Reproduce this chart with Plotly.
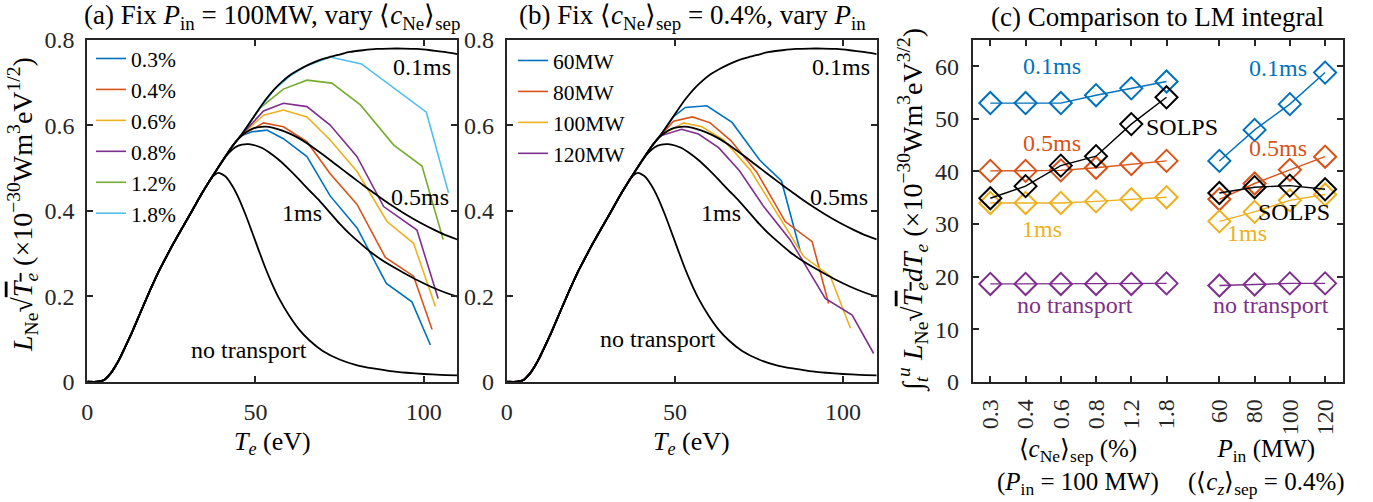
import plotly.graph_objects as go

FONT = "Liberation Serif"
AX = "#262626"
W, H = 1373, 502

# ---------------- panels (a) & (b): model curves (black) ----------------
rise_T = [0, 3, 5, 7, 9, 11, 13, 15, 17, 19, 21, 23, 25, 28, 31, 34, 37]
rise_L = [0, 0, 0.004, 0.02, 0.045, 0.077, 0.11, 0.147, 0.184, 0.22, 0.255,
          0.285, 0.315, 0.357, 0.398, 0.44, 0.478]

nt_T = [39, 41, 43, 45, 47, 49, 51, 53, 55, 57, 60, 63, 66, 70, 75, 80, 85, 90,
        95, 100, 105, 110]
nt_L = [0.489, 0.481, 0.46, 0.43, 0.392, 0.35, 0.307, 0.265, 0.228, 0.195,
        0.155, 0.122, 0.097, 0.072, 0.052, 0.039, 0.031, 0.025, 0.021, 0.018,
        0.016, 0.015]

t1_T = [40, 42, 44, 46, 48, 50, 52, 54, 57, 60, 63, 66, 69, 72, 75, 78, 81, 84,
        87, 90, 94, 98, 102, 106, 110]
t1_L = [0.515, 0.535, 0.549, 0.555, 0.556, 0.553, 0.547, 0.537, 0.519, 0.497,
        0.473, 0.448, 0.424, 0.397, 0.370, 0.346, 0.325, 0.305, 0.288, 0.273,
        0.255, 0.238, 0.223, 0.210, 0.199]

t05_T = [40, 43, 45, 47, 49, 51, 53, 55, 58, 61, 64, 67, 70, 73, 76, 79, 82, 85,
         88, 91, 94, 97, 100, 103, 106, 110]
t05_L = [0.515, 0.55, 0.569, 0.583, 0.592, 0.596, 0.597, 0.595, 0.588, 0.578,
         0.565, 0.549, 0.532, 0.514, 0.496, 0.478, 0.460, 0.443, 0.426, 0.410,
         0.395, 0.381, 0.368, 0.356, 0.345, 0.333]

t01_T = [40, 43, 45.5, 48, 50.5, 53, 55.5, 58, 60.5, 63, 66, 69, 72, 75, 78, 82,
         86, 90, 94, 98, 102, 106, 110]
t01_L = [0.515, 0.55, 0.575, 0.603, 0.632, 0.66, 0.684, 0.703, 0.719, 0.731,
         0.743, 0.753, 0.760, 0.766, 0.772, 0.776, 0.779, 0.780, 0.780, 0.779,
         0.776, 0.772, 0.767]

# ---------------- SOLPS profiles (coloured), shared start ----------------
pre_T = [0, 3, 5, 7, 10, 13, 16, 19, 22, 25, 28, 31, 34, 37, 40, 43, 45.5]
pre_L = [0, 0, 0.004, 0.02, 0.058, 0.11, 0.166, 0.22, 0.27, 0.315, 0.357,
         0.398, 0.44, 0.478, 0.515, 0.55, 0.575]

# panel (a): vary c_Ne
a_labels = ["0.3%", "0.4%", "0.6%", "0.8%", "1.2%", "1.8%"]
a03_T = [49, 53.4, 58.3, 65.3, 72.2, 80.2, 88.9, 96.5, 102]
a03_L = [0.585, 0.589, 0.569, 0.527, 0.435, 0.36, 0.23, 0.187, 0.086]
a04_T = [52.4, 58.3, 65.3, 72.2, 80.2, 88.6, 97, 102.5]
a04_L = [0.606, 0.597, 0.562, 0.487, 0.415, 0.291, 0.247, 0.122]
a06_T = [52.4, 58.3, 65.3, 72.2, 80.2, 89.1, 97, 103.5]
a06_L = [0.624, 0.636, 0.620, 0.566, 0.492, 0.375, 0.324, 0.176]
a08_T = [52.4, 58.3, 65.3, 72.2, 80.2, 88.1, 98, 104.3]
a08_L = [0.634, 0.652, 0.644, 0.601, 0.527, 0.41, 0.355, 0.195]
a12_T = [51.4, 58.3, 65.3, 72.7, 81.2, 91.1, 99.5, 105.8]
a12_L = [0.641, 0.685, 0.706, 0.699, 0.648, 0.554, 0.505, 0.333]
a18_T = [50.5, 55.5, 60.3, 65.3, 72.2, 81.5, 100.8, 107.4]
a18_L = [0.632, 0.683, 0.716, 0.740, 0.760, 0.744, 0.631, 0.442]

# panel (b): vary P_in
b_labels = ["60MW", "80MW", "100MW", "120MW"]
b60_T = [49.5, 53.1, 59.5, 67, 75.2, 81.7, 87.3]
b60_L = [0.62, 0.642, 0.646, 0.607, 0.519, 0.47, 0.305]
b80_T = [49.6, 55.2, 60.5, 66.7, 74.4, 82.8, 90.8, 95.7]
b80_L = [0.61, 0.62, 0.606, 0.564, 0.49, 0.375, 0.328, 0.183]
b100_T = [52.6, 58, 64.5, 72.4, 80.4, 88.3, 96.2, 102.2]
b100_L = [0.606, 0.597, 0.566, 0.496, 0.394, 0.293, 0.247, 0.125]
b120_T = [52, 57, 63, 69.2, 76.4, 84.3, 94.7, 102.7, 109.1]
b120_L = [0.591, 0.58, 0.548, 0.494, 0.41, 0.332, 0.195, 0.156, 0.066]

# ---------------- panel (c): LM integral ----------------
c_left_labels = ["0.3", "0.4", "0.6", "0.8", "1.2", "1.8"]
c_right_labels = ["60", "80", "100", "120"]
c01_left = [53.0, 53.0, 53.0, 54.5, 55.8, 57.1]
c01_right = [42.0, 47.9, 52.8, 58.8]
c05_left = [40.1, 40.1, 40.2, 40.7, 41.4, 42.0]
c05_right = [34.7, 37.7, 40.3, 42.8]
c1_left = [34.0, 34.0, 34.0, 34.3, 34.7, 35.1]
c1_right = [30.5, 32.3, 34.5, 35.6]
cnt_left = [18.6, 18.6, 18.6, 18.6, 18.6, 18.7]
cnt_right = [18.3, 18.5, 18.7, 18.7]
solps_left = [34.9, 37.2, 41.1, 42.9, 49.0, 54.1]
solps_right = [35.9, 37.0, 37.3, 36.6]

BLUE, RED, YEL, PUR, GRN, LBL = ("#0072BD", "#D95319", "#EDB120", "#7E2F8E",
                                 "#77AC30", "#4DBEEE")

fig = go.Figure()

# coloured SOLPS profiles
a_series = [(a03_T, a03_L, BLUE), (a04_T, a04_L, RED), (a06_T, a06_L, YEL),
            (a08_T, a08_L, PUR), (a12_T, a12_L, GRN), (a18_T, a18_L, LBL)]
for lab, (tt, ll, col) in zip(a_labels, a_series):
    fig.add_trace(go.Scatter(x=pre_T + tt, y=pre_L + ll, mode="lines", name=lab,
                             line=dict(color=col, width=1.6), xaxis="x", yaxis="y",
                             legend="legend"))
b_series = [(b60_T, b60_L, BLUE), (b80_T, b80_L, RED), (b100_T, b100_L, YEL),
            (b120_T, b120_L, PUR)]
for lab, (tt, ll, col) in zip(b_labels, b_series):
    fig.add_trace(go.Scatter(x=pre_T + tt, y=pre_L + ll, mode="lines", name=lab,
                             line=dict(color=col, width=1.6), xaxis="x2", yaxis="y2",
                             legend="legend2"))

# black model curves
models = [(nt_T, nt_L), (t1_T, t1_L), (t05_T, t05_L), (t01_T, t01_L)]
for xa, ya in (("x", "y"), ("x2", "y2")):
    for tt, ll in models:
        fig.add_trace(go.Scatter(x=rise_T + tt, y=rise_L + ll, mode="lines",
                                 line=dict(color="black", width=1.8, shape="spline",
                                           smoothing=0.6),
                                 showlegend=False, xaxis=xa, yaxis=ya, hoverinfo="skip"))

# panel (c)
left_pos = [1, 2, 3, 4, 5, 6]
right_pos = [7.5, 8.5, 9.5, 10.5]
c_series = [(c01_left, c01_right, BLUE), (c05_left, c05_right, RED),
            (c1_left, c1_right, YEL), (cnt_left, cnt_right, PUR),
            (solps_left, solps_right, "black")]
for lv, rv, col in c_series:
    for pos, vals in ((left_pos, lv), (right_pos, rv)):
        fig.add_trace(go.Scatter(x=pos, y=vals, mode="lines+markers",
                                 line=dict(color=col, width=1.4),
                                 marker=dict(symbol="diamond-open", size=17, color=col,
                                             line=dict(color=col, width=2)),
                                 showlegend=False, xaxis="x3", yaxis="y3"))


def px_x(p):
    return p / W


def px_y(p):
    return 1 - p / H


tickfont = dict(family=FONT, size=24, color=AX)
common = dict(showline=True, linecolor=AX, linewidth=2, mirror="ticks", ticks="inside",
              ticklen=6, tickwidth=1.5, tickcolor=AX, showgrid=False, zeroline=False,
              tickfont=tickfont, automargin=False)
ydom = [px_y(381.7), px_y(40)]

fig.update_layout(
    width=W, height=H, margin=dict(l=0, r=0, t=0, b=0, autoexpand=False),
    paper_bgcolor="white", plot_bgcolor="white",
    font=dict(family=FONT, size=24, color="black"),
    xaxis=dict(domain=[px_x(87.3), px_x(457.3)], range=[0, 110], tickvals=[0, 50, 100],
               anchor="y", ticklabelstandoff=7, **common),
    yaxis=dict(domain=ydom, range=[0, 0.8], tickvals=[0, 0.2, 0.4, 0.6, 0.8],
               ticktext=["0", "0.2", "0.4", "0.6", "0.8"], anchor="x",
               ticklabelstandoff=6, **common),
    xaxis2=dict(domain=[px_x(506.7), px_x(876.7)], range=[0, 110], tickvals=[0, 50, 100],
                anchor="y2", ticklabelstandoff=7, **common),
    yaxis2=dict(domain=ydom, range=[0, 0.8], tickvals=[0, 0.2, 0.4, 0.6, 0.8],
                ticktext=["0", "0.2", "0.4", "0.6", "0.8"], anchor="x2",
                ticklabelstandoff=6, **common),
    xaxis3=dict(domain=[px_x(972.7), px_x(1342.7)], range=[0.5, 11],
                tickvals=left_pos + right_pos, ticktext=c_left_labels + c_right_labels,
                tickangle=-90, anchor="y3", ticklabelstandoff=6, **common),
    yaxis3=dict(domain=ydom, range=[0, 65], tickvals=[0, 10, 20, 30, 40, 50, 60],
                anchor="x3", ticklabelstandoff=7, **common),
    legend=dict(x=px_x(91), y=px_y(38), xanchor="left", yanchor="top",
                bgcolor="rgba(0,0,0,0)", font=dict(family=FONT, size=21.5, color="black"),
                tracegroupgap=0, itemwidth=30),
    legend2=dict(x=px_x(513), y=px_y(40), xanchor="left", yanchor="top",
                 bgcolor="rgba(0,0,0,0)", font=dict(family=FONT, size=21.5, color="black"),
                 tracegroupgap=0, itemwidth=30),
)

ann = []


def text(x, y, s, size=24, color="black", xref="paper", yref="paper", angle=0):
    ann.append(dict(x=x, y=y, xref=xref, yref=yref, text=s, showarrow=False,
                    xanchor="center", yanchor="middle", textangle=angle,
                    font=dict(family=FONT, size=size, color=color)))


CNE = "⟨<i>c</i><sub>Ne</sub>⟩<sub>sep</sub>"
PIN = "<i>P</i><sub>in</sub>"
# titles
text(px_x(272), px_y(17), "(a) Fix " + PIN + " = 100MW, vary " + CNE, size=27)
text(px_x(692), px_y(17), "(b) Fix " + CNE + " = 0.4%, vary " + PIN, size=27)
text(px_x(1157.5), px_y(17), "(c) Comparison to LM integral", size=27)
# axis titles
TE = "<i>T<sub>e</sub></i>"
text(px_x(272), px_y(443), TE + " (eV)", size=26)
text(px_x(691.7), px_y(443), TE + " (eV)", size=26)
SQ = "√<span style='text-decoration:overline'><i>T<sub>e</sub></i></span>"
text(px_x(22), px_y(205),
     "<i>L</i><sub>Ne</sub>" + SQ + " (×10<sup>−30</sup>Wm<sup>3</sup>eV<sup>1/2</sup>)",
     size=28, angle=-90)
text(px_x(912), px_y(210),
     "∫<sub><i>t</i></sub><sup><i>u</i></sup> <i>L</i><sub>Ne</sub>" + SQ + "<i>dT<sub>e</sub></i>"
     " (×10<sup>−30</sup>Wm<sup>3</sup>eV<sup>3/2</sup>)", size=28, angle=-90)
text(px_x(1077.5), px_y(467), CNE + " (%)<br>(" + PIN + " = 100 MW)", size=25)
text(px_x(1266.5), px_y(467),
     PIN + " (MW)<br>(⟨<i>c<sub>z</sub></i>⟩<sub>sep</sub> = 0.4%)", size=25)

# in-plot labels, panels (a) and (b)
for xr, yr in (("x", "y"), ("x2", "y2")):
    text(99.5, 0.737, "0.1ms", xref=xr, yref=yr)
    text(98.8, 0.432, "0.5ms", xref=xr, yref=yr)
    text(63.8, 0.395, "1ms", xref=xr, yref=yr)
text(48.1, 0.074, "no transport", xref="x", yref="y")
text(45.1, 0.100, "no transport", xref="x2", yref="y2")

# in-plot labels, panel (c)
text(2.74, 60.1, "0.1ms", color=BLUE, xref="x3", yref="y3")
text(9.16, 59.7, "0.1ms", color=BLUE, xref="x3", yref="y3")
text(2.74, 45.4, "0.5ms", color=RED, xref="x3", yref="y3")
text(9.16, 44.4, "0.5ms", color=RED, xref="x3", yref="y3")
text(2.46, 29.1, "1ms", color=YEL, xref="x3", yref="y3")
text(8.27, 28.2, "1ms", color=YEL, xref="x3", yref="y3")
text(6.43, 48.4, "SOLPS", xref="x3", yref="y3")
text(9.62, 32.3, "SOLPS", xref="x3", yref="y3")
text(3.39, 14.55, "no transport", color=PUR, xref="x3", yref="y3")
text(8.96, 14.55, "no transport", color=PUR, xref="x3", yref="y3")

fig.update_layout(annotations=ann)
fig.write_html("out.html")
